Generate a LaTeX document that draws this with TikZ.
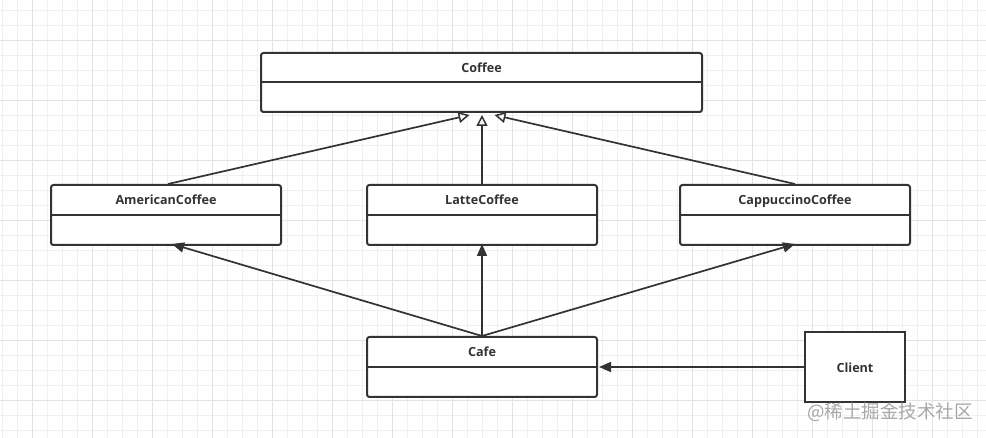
\documentclass[tikz,border=0pt]{standalone}
\usepackage{fontspec}
\setmainfont{Open Sans}
\newfontfamily\cjk{Noto Sans CJK SC}
\usepackage{tikz}
\usetikzlibrary{arrows.meta,positioning}

\definecolor{inkgray}{HTML}{333333}
\definecolor{gridminor}{HTML}{F0F0F0}
\definecolor{gridmajor}{HTML}{E2E2E2}
\definecolor{markgray}{HTML}{A8A8A8}

\tikzset{
  classbox/.style={draw=inkgray, line width=2pt, rounded corners=2.5pt, fill=white,
    minimum width=230pt, minimum height=60pt, inner sep=0pt},
  classname/.style={text=inkgray, font=\fontsize{12.6}{14}\selectfont\bfseries, inner sep=0pt,
    text height=12pt, text depth=1.5pt},
  inherit/.style={draw=inkgray, line width=1.7pt, -{Triangle[open, length=11pt, width=11pt, line width=1.5pt]}},
  uses/.style={draw=inkgray, line width=1.7pt, -{Triangle[length=12pt, width=10pt]}},
}

\begin{document}
\begin{tikzpicture}[x=1pt, y=-1pt]
			\def\boxw{230}
			\def\halfh{15.5}
			
			% Background and grid
			\useasboundingbox (0,0) rectangle (986,438);
			\fill[white] (0,0) rectangle (986,438);
			\foreach \x in {2,17,...,986}
				\draw[gridminor, line width=0.8pt] (\x,0) -- (\x,438);
			\foreach \y in {10,25,...,438}
				\draw[gridminor, line width=0.8pt] (0,\y) -- (986,\y);
			\foreach \x in {32,92,...,986}
				\draw[gridmajor, line width=0.8pt] (\x,0) -- (\x,438);
			\foreach \y in {40,100,...,438}
				\draw[gridmajor, line width=0.8pt] (0,\y) -- (986,\y);
			
			% Classes
			\node[classbox, minimum width=441pt, minimum height=59pt] (coffee) at (481.5,82.5) {};
			\node[classbox] (american) at (166,215) {};
			\node[classbox] (latte) at (482,215) {};
			\node[classbox] (cappuccino) at (795,215) {};
			\node[classbox] (cafe) at (482,367) {};
			\node[draw=inkgray, line width=2pt, fill=white, minimum width=100pt, minimum height=70pt,
				inner sep=0pt, classname] (client) at (855,367) {Client};
			
			% Dividers between name and body
			\foreach \c in {coffee,american,latte,cappuccino,cafe}
				\draw[inkgray, line width=2pt] (\c.west) -- (\c.east);
			
			% Class names
			\node[classname] at ([yshift=-\halfh]coffee.north) {Coffee};
			\node[classname] at ([yshift=-\halfh]american.north) {AmericanCoffee};
			\node[classname] at ([yshift=-\halfh]latte.north) {LatteCoffee};
			\node[classname] at ([yshift=-\halfh]cappuccino.north) {CappuccinoCoffee};
			\node[classname] at ([yshift=-\halfh]cafe.north) {Cafe};
			
			% Generalization
			\draw[inherit] ([xshift=2]american.north) -- ([xshift=-12,yshift=-2]coffee.south);
			\draw[inherit] (latte.north) -- ([xshift=0.5,yshift=-2]coffee.south);
			\draw[inherit] (cappuccino.north) -- ([xshift=13,yshift=-2]coffee.south);
			
			% Associations
			\draw[uses] (cafe.north) -- ([xshift=6,yshift=2]american.south);
			\draw[uses] (cafe.north) -- ([yshift=2]latte.south);
			\draw[uses] (cafe.north) -- ([yshift=2]cappuccino.south);
			\draw[uses] (client.west) -- ([xshift=1]cafe.east);
			
			% Watermark
			\node[text=markgray, font=\cjk\fontsize{18.5}{20}\selectfont, anchor=east, inner sep=0pt] (mark) at (973,412) {@稀土掘金技术社区};
		\end{tikzpicture}
\end{document}
